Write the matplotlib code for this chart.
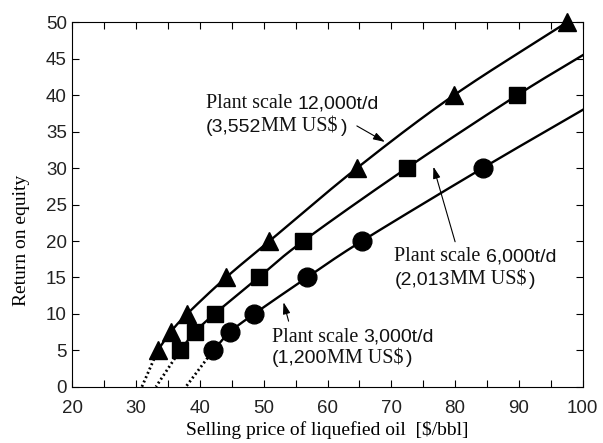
import numpy as np
import matplotlib
matplotlib.use('Agg')
import matplotlib.pyplot as plt
from matplotlib.transforms import offset_copy

# ---- data ----
price_12000 = [33.4, 35.4, 38.0, 44.1, 50.9, 64.6, 79.8, 97.5]
roe_12000 = [5, 7.5, 10, 15, 20, 30, 40, 50]
price_6000 = [36.9, 39.2, 42.3, 49.2, 56.2, 72.4, 89.7]
roe_6000 = [5, 7.5, 10, 15, 20, 30, 40]
price_3000 = [42.1, 44.7, 48.5, 56.8, 65.4, 84.3]
roe_3000 = [5, 7.5, 10, 15, 20, 30]
# where the solid curves leave the plot on the right edge
curve_end_6000 = (100, 45.5)
curve_end_3000 = (100, 38.0)
# dotted extrapolation down to ROE = 0
breakeven_price = [30.9, 33.1, 37.8]

x_ticks = [20, 30, 40, 50, 60, 70, 80, 90, 100]
y_ticks = [0, 5, 10, 15, 20, 25, 30, 35, 40, 45, 50]

SERIF = 'Liberation Serif'
SANS = 'Liberation Sans'


def smooth(xs, ys, n=30):
    P = np.column_stack([xs, ys]).astype(float)
    P = np.vstack([2 * P[0] - P[1], P, 2 * P[-1] - P[-2]])
    out = []
    t = np.linspace(0, 1, n)[:, None]
    for i in range(1, len(P) - 2):
        p0, p1, p2, p3 = P[i - 1], P[i], P[i + 1], P[i + 2]
        seg = 0.5 * ((2 * p1) + (-p0 + p2) * t + (2 * p0 - 5 * p1 + 4 * p2 - p3) * t ** 2
                     + (-p0 + 3 * p1 - 3 * p2 + p3) * t ** 3)
        out.append(seg)
    return np.vstack(out)


fig = plt.figure(figsize=(6.03, 4.43), dpi=100)
ax = fig.add_axes([0.12, 0.127, 0.8463, 0.8223])
ax.set_xlim(20, 100)
ax.set_ylim(0, 50)

series = [
    (price_12000, roe_12000, None, '^', 12.5, breakeven_price[0]),
    (price_6000, roe_6000, curve_end_6000, 's', 12, breakeven_price[1]),
    (price_3000, roe_3000, curve_end_3000, 'o', 13.5, breakeven_price[2]),
]
for xs, ys, end, mk, ms, be in series:
    cx = list(xs) + ([end[0]] if end else [])
    cy = list(ys) + ([end[1]] if end else [])
    c = smooth(cx, cy)
    ax.plot(c[:, 0], c[:, 1], color='black', lw=1.7, zorder=2, clip_on=True)
    ax.plot([xs[0], be], [ys[0], 0], color='black', lw=2.0, ls=(0, (0.7, 1.0)), zorder=2)
    ax.plot(xs, ys, ls='none', marker=mk, ms=ms, color='black', zorder=3, clip_on=False)

ax.set_xticks(x_ticks)
ax.set_xticks(np.arange(25, 100, 10), minor=True)
ax.set_yticks(y_ticks)
ax.tick_params(which='both', direction='in', top=True, right=True, length=5, width=0.8)
ax.tick_params(axis='x', pad=9.5)
ax.tick_params(axis='y', pad=4)
for lab in ax.get_xticklabels() + ax.get_yticklabels():
    lab.set_family(SANS)
    lab.set_fontsize(13.5)
    lab.set_color('#222222')
for s in ax.spines.values():
    s.set_linewidth(0.8)

fig.text(0.543, 0.029, 'Selling price of liquefied oil  [$/bbl]', family=SERIF, fontsize=14,
         ha='center', va='center')
fig.text(0.036, 0.458, 'Return on equity', family=SERIF, fontsize=14, rotation=90,
         ha='center', va='center')

renderer = fig.canvas.get_renderer()
FS = 14.5


def rich(x, y, parts):
    off = 0.0
    for s, fam, gap in parts:
        off += gap
        tr = offset_copy(ax.transData, fig=fig, x=off, y=0, units='points')
        t = ax.text(x, y, s, family=fam, fontsize=FS if fam == SERIF else 14,
                    va='baseline', ha='left', transform=tr, color='#111111')
        w = t.get_window_extent(renderer).width * 72.0 / fig.dpi
        off += w


rich(40.96, 38.2, [('Plant scale', SERIF, 0), ('12,000t/d', SANS, 4)])
rich(40.96, 35.0, [('(3,552', SANS, 0), ('MM US$', SERIF, 0), (')', SANS, 2)])
rich(70.5, 17.2, [('Plant scale', SERIF, 0), ('6,000t/d', SANS, 4)])
rich(70.5, 14.0, [('(2,013', SANS, 0), ('MM US$', SERIF, 0), (')', SANS, 2)])
rich(51.25, 6.2, [('Plant scale', SERIF, 0), ('3,000t/d', SANS, 4)])
rich(51.25, 3.2, [('(1,200', SANS, 0), ('MM US$', SERIF, 0), (')', SANS, 2)])

arrow = dict(arrowstyle='-|>,head_length=0.7,head_width=0.22', lw=0.8, color='black',
             shrinkA=0, shrinkB=0)
ax.annotate('', xy=(69.0, 33.6), xytext=(64.6, 35.8), arrowprops=arrow)
ax.annotate('', xy=(76.6, 30.2), xytext=(80.0, 19.9), arrowprops=arrow)
ax.annotate('', xy=(53.1, 11.6), xytext=(53.9, 9.0), arrowprops=arrow)

fig.savefig('out.png', dpi=100)
